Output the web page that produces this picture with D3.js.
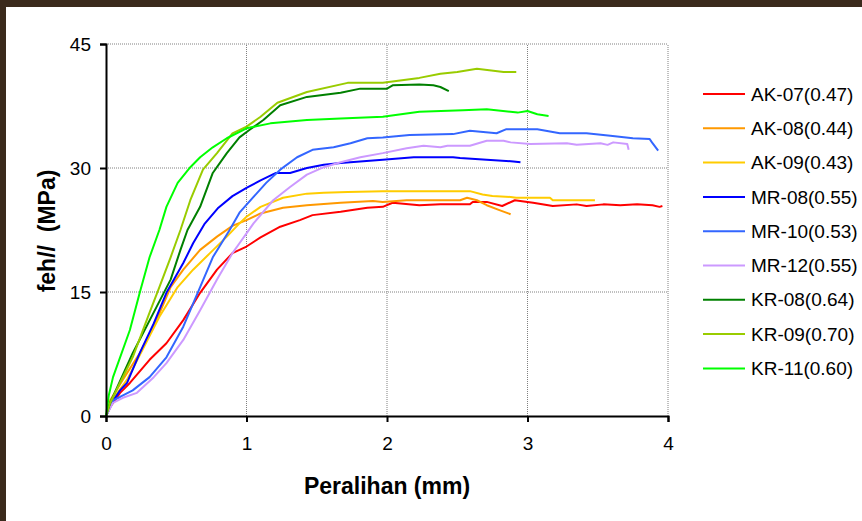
<!DOCTYPE html>
<html>
<head>
<meta charset="utf-8">
<script src="https://cdn.jsdelivr.net/npm/d3@7"></script>
<style>
  html, body { margin: 0; padding: 0; background: #3b2a1c; }
  svg { display: block; }
  text { font-family: 'Liberation Sans', Arial, sans-serif; }
</style>
</head>
<body>
<svg id="viz"></svg>
<script>
// series data: [displacement mm, feh MPa]
const ak07 = [[0,0],[0.03,1.1],[0.1,2.8],[0.17,4.0],[0.31,6.8],[0.43,8.8],[0.55,11.6],[0.67,14.9],[0.79,17.7],[0.9,19.7],[1.0,20.5],[1.1,21.6],[1.24,22.9],[1.38,23.7],[1.47,24.3],[1.67,24.7],[1.86,25.2],[1.97,25.3],[2.04,25.8],[2.23,25.5],[2.38,25.6],[2.59,25.6],[2.61,25.9],[2.71,25.9],[2.82,25.4],[2.91,26.1],[3.0,25.9],[3.04,25.8],[3.18,25.4],[3.35,25.6],[3.42,25.4],[3.54,25.6],[3.66,25.5],[3.78,25.6],[3.89,25.5],[3.94,25.3],[3.96,25.4]]
const ak08 = [[0,0],[0.03,1.9],[0.12,4.4],[0.24,7.6],[0.36,11.6],[0.46,15.6],[0.55,17.7],[0.67,20.1],[0.79,21.7],[0.9,23.0],[1.0,23.7],[1.1,24.5],[1.26,25.2],[1.43,25.5],[1.67,25.8],[1.9,26.0],[1.97,25.9],[2.14,26.1],[2.52,26.1],[2.57,26.4],[2.64,26.1],[2.71,25.5],[2.8,24.9],[2.88,24.4]]
const ak09 = [[0,0],[0.03,1.6],[0.15,4.4],[0.26,8.0],[0.38,12.0],[0.51,15.6],[0.62,17.7],[0.74,19.7],[0.86,21.7],[0.95,23.3],[1.0,24.1],[1.1,25.3],[1.26,26.4],[1.43,26.9],[1.55,27.0],[1.72,27.1],[1.97,27.2],[2.59,27.2],[2.68,26.8],[2.75,26.6],[2.88,26.5],[2.92,26.4],[3.16,26.4],[3.18,26.1],[3.48,26.1]]
const mr08 = [[0,0],[0.05,1.8],[0.1,3.1],[0.15,4.0],[0.24,7.6],[0.34,11.2],[0.43,14.9],[0.55,18.5],[0.62,20.9],[0.7,23.2],[0.8,25.2],[0.9,26.6],[1.0,27.6],[1.1,28.5],[1.21,29.4],[1.31,29.4],[1.43,30.0],[1.55,30.4],[1.67,30.6],[1.97,31.0],[2.19,31.3],[2.47,31.3],[2.52,31.2],[2.71,31.0],[2.9,30.8],[2.95,30.7]]
const mr10 = [[0,0],[0.05,1.9],[0.1,2.3],[0.19,3.1],[0.31,4.7],[0.43,7.1],[0.55,10.8],[0.67,15.6],[0.76,19.2],[0.88,22.5],[0.95,24.6],[1.05,26.5],[1.14,28.2],[1.24,29.8],[1.36,31.3],[1.47,32.2],[1.62,32.5],[1.74,33.0],[1.86,33.6],[1.97,33.7],[2.16,34.0],[2.47,34.1],[2.59,34.5],[2.78,34.2],[2.85,34.7],[3.07,34.7],[3.23,34.2],[3.42,34.2],[3.59,33.9],[3.75,33.6],[3.87,33.5],[3.89,33.0],[3.93,32.1]]
const mr12 = [[0,0],[0.05,1.6],[0.12,2.2],[0.22,2.8],[0.34,4.7],[0.43,6.4],[0.55,9.2],[0.67,12.8],[0.79,16.5],[0.9,19.7],[0.95,20.9],[1.0,22.1],[1.05,23.3],[1.19,26.1],[1.31,27.7],[1.43,29.2],[1.55,30.1],[1.67,30.7],[1.81,31.3],[1.97,31.8],[2.14,32.4],[2.26,32.7],[2.38,32.5],[2.43,32.7],[2.59,32.7],[2.71,33.3],[2.83,33.3],[2.88,33.1],[3.02,32.9],[3.28,33.0],[3.35,32.8],[3.52,33.0],[3.57,32.8],[3.61,33.1],[3.71,32.9],[3.72,32.2]]
const kr08 = [[0,0],[0.03,1.6],[0.19,7.6],[0.36,13.2],[0.46,16.5],[0.53,20.1],[0.58,22.5],[0.67,25.3],[0.76,29.4],[0.86,31.8],[0.95,33.7],[1.02,34.6],[1.12,35.8],[1.24,37.6],[1.43,38.6],[1.67,39.1],[1.81,39.6],[2.0,39.6],[2.04,40.0],[2.23,40.1],[2.33,40.0],[2.38,39.8],[2.44,39.3]]
const kr09 = [[0,0],[0.03,1.6],[0.19,7.1],[0.31,12.5],[0.38,15.6],[0.46,19.2],[0.53,22.5],[0.6,26.1],[0.69,29.8],[0.79,31.8],[0.9,34.2],[1.0,35.0],[1.1,36.2],[1.22,37.9],[1.43,39.2],[1.72,40.3],[1.97,40.3],[2.23,40.9],[2.38,41.4],[2.5,41.6],[2.64,42.0],[2.83,41.6],[2.92,41.6]]
const kr11 = [[0,0],[0.02,2.5],[0.05,4.7],[0.17,10.4],[0.24,14.9],[0.31,19.2],[0.38,22.5],[0.43,25.3],[0.51,28.2],[0.6,30.1],[0.67,31.3],[0.76,32.5],[0.86,33.6],[1.0,34.8],[1.17,35.4],[1.43,35.8],[1.67,36.0],[1.97,36.2],[2.23,36.8],[2.54,37.0],[2.71,37.1],[2.93,36.7],[3.0,36.9],[3.07,36.5],[3.15,36.3]]

const names = ['AK-07(0.47)', 'AK-08(0.44)', 'AK-09(0.43)', 'MR-08(0.55)', 'MR-10(0.53)', 'MR-12(0.55)', 'KR-08(0.64)', 'KR-09(0.70)', 'KR-11(0.60)']
const colors = ['#ff0000', '#ff9900', '#ffcc00', '#0000ff', '#3366ff', '#cc99ff', '#008000', '#99cc00', '#00ff00']
const seriesValues = [ak07, ak08, ak09, mr08, mr10, mr12, kr08, kr09, kr11]
const xTicks = [0, 1, 2, 3, 4]
const yTicks = [0, 15, 30, 45]

const width = 862
const height = 521
const margin = { top: 44, left: 106, right: 194, bottom: 105 }

const svg = d3.select('#viz').attr('width', width).attr('height', height)

// white card over the brown frame
svg.append('rect')
  .attr('x', 6).attr('y', 7)
  .attr('width', width - 6).attr('height', height - 7)
  .attr('fill', '#ffffff')

const x = d3.scaleLinear().domain([0, 4]).range([margin.left, width - margin.right])
const y = d3.scaleLinear().domain([0, 45]).range([height - margin.bottom, margin.top])

// grid
const grid = svg.append('g').attr('class', 'grid')
grid.selectAll('.vgrid')
  .data(xTicks.filter((d) => d > 0))
  .join('line')
  .attr('x1', (d) => x(d)).attr('x2', (d) => x(d))
  .attr('y1', y(0)).attr('y2', y(45))
  .attr('stroke', '#808080')
  .attr('stroke-width', 1)
  .attr('stroke-dasharray', '1,1')
grid.selectAll('.hgrid')
  .data(yTicks.filter((d) => d > 0))
  .join('line')
  .attr('x1', x(0)).attr('x2', x(4))
  .attr('y1', (d) => y(d)).attr('y2', (d) => y(d))
  .attr('stroke', '#808080')
  .attr('stroke-width', 1)
  .attr('stroke-dasharray', '1,1')

// curves
const line = d3.line().x((d) => x(d[0])).y((d) => y(d[1]))
svg.append('g')
  .selectAll('path')
  .data(seriesValues)
  .join('path')
  .attr('d', (d) => line(d))
  .attr('fill', 'none')
  .attr('stroke', (d, i) => colors[i])
  .attr('stroke-width', 2)
  .attr('stroke-linejoin', 'round')

// axes
const xAxis = svg.append('g')
  .attr('transform', `translate(0, ${y(0)})`)
  .call(d3.axisBottom(x).tickValues(xTicks).tickFormat(d3.format('d')).tickSize(6).tickPadding(15))
xAxis.select('.domain').attr('stroke', '#000').attr('stroke-width', 2)
xAxis.selectAll('.tick line').attr('stroke', '#000').attr('stroke-width', 2)
xAxis.selectAll('text').attr('font-size', 19).attr('fill', '#000')
  .attr('font-family', "'Liberation Sans', Arial, sans-serif")

const yAxis = svg.append('g')
  .attr('transform', `translate(${x(0)}, 0)`)
  .call(d3.axisLeft(y).tickValues(yTicks).tickSize(6).tickPadding(9))
yAxis.select('.domain').attr('stroke', '#000').attr('stroke-width', 2)
yAxis.selectAll('.tick line').attr('stroke', '#000').attr('stroke-width', 2)
yAxis.selectAll('text').attr('font-size', 19).attr('fill', '#000')
  .attr('font-family', "'Liberation Sans', Arial, sans-serif")

// axis titles
svg.append('text')
  .attr('x', (x(0) + x(4)) / 2)
  .attr('y', 494)
  .attr('text-anchor', 'middle')
  .attr('font-size', 23)
  .attr('font-weight', 'bold')
  .text('Peralihan (mm)')

svg.append('text')
  .attr('transform', 'translate(55, 231) rotate(-90)')
  .attr('text-anchor', 'middle')
  .attr('font-size', 23)
  .attr('font-weight', 'bold')
  .style('white-space', 'pre')
  .text('feh//  (MPa)')

// legend
const legend = svg.append('g').attr('transform', 'translate(703, 94)')
const rows = legend.selectAll('g')
  .data(names)
  .join('g')
  .attr('transform', (d, i) => `translate(0, ${i * 34.3})`)
rows.append('line')
  .attr('x1', 0).attr('x2', 42)
  .attr('y1', 0).attr('y2', 0)
  .attr('stroke', (d, i) => colors[i])
  .attr('stroke-width', 2)
rows.append('text')
  .attr('x', 48)
  .attr('dy', '0.35em')
  .attr('font-size', 19)
  .attr('fill', '#000')
  .text((d) => d)
</script>
</body>
</html>
